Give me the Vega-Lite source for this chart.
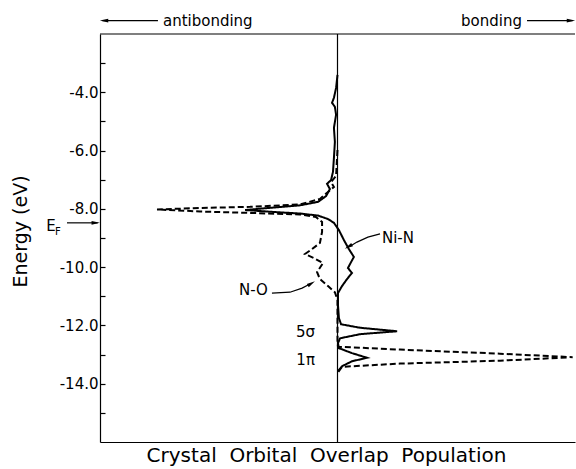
{
  "$schema": "https://vega.github.io/schema/vega-lite/v6.json",
  "width": 475,
  "height": 408,
  "autosize": "none",
  "padding": {"left": 100, "top": 34, "right": 1, "bottom": 27},
  "config": {
    "view": {"stroke": null},
    "font": "DejaVu Sans",
    "axis": {"domainColor": "black", "tickColor": "black", "labelColor": "black", "titleColor": "black", "grid": false, "titleFontWeight": "normal", "domainWidth": 1.2, "tickWidth": 1.2}
  },
  "datasets": {
    "curves": [
      {"s":"Ni-N","o":1,"x":0.000,"E":-3.40},{"s":"Ni-N","o":2,"x":-0.006,"E":-3.85},{"s":"Ni-N","o":3,"x":-0.015,"E":-4.19},{"s":"Ni-N","o":4,"x":-0.023,"E":-4.36},{"s":"Ni-N","o":5,"x":-0.011,"E":-4.50},{"s":"Ni-N","o":6,"x":-0.006,"E":-4.77},{"s":"Ni-N","o":7,"x":-0.015,"E":-5.22},{"s":"Ni-N","o":8,"x":-0.011,"E":-5.70},{"s":"Ni-N","o":9,"x":-0.015,"E":-6.25},{"s":"Ni-N","o":10,"x":-0.019,"E":-6.73},{"s":"Ni-N","o":11,"x":-0.027,"E":-7.01},{"s":"Ni-N","o":12,"x":-0.044,"E":-7.14},{"s":"Ni-N","o":13,"x":-0.032,"E":-7.32},{"s":"Ni-N","o":14,"x":-0.048,"E":-7.56},{"s":"Ni-N","o":15,"x":-0.082,"E":-7.76},{"s":"Ni-N","o":16,"x":-0.158,"E":-7.88},{"s":"Ni-N","o":17,"x":-0.263,"E":-7.95},{"s":"Ni-N","o":18,"x":-0.389,"E":-8.04},{"s":"Ni-N","o":19,"x":-0.263,"E":-8.11},{"s":"Ni-N","o":20,"x":-0.158,"E":-8.16},{"s":"Ni-N","o":21,"x":-0.082,"E":-8.23},{"s":"Ni-N","o":22,"x":-0.040,"E":-8.35},{"s":"Ni-N","o":23,"x":-0.015,"E":-8.48},{"s":"Ni-N","o":24,"x":0.006,"E":-8.73},{"s":"Ni-N","o":25,"x":0.027,"E":-9.07},{"s":"Ni-N","o":26,"x":0.048,"E":-9.38},{"s":"Ni-N","o":27,"x":0.069,"E":-9.65},{"s":"Ni-N","o":28,"x":0.053,"E":-9.89},{"s":"Ni-N","o":29,"x":0.044,"E":-10.03},{"s":"Ni-N","o":30,"x":0.061,"E":-10.20},{"s":"Ni-N","o":31,"x":0.040,"E":-10.41},{"s":"Ni-N","o":32,"x":0.019,"E":-10.65},{"s":"Ni-N","o":33,"x":0.002,"E":-10.89},{"s":"Ni-N","o":34,"x":0.002,"E":-11.30},{"s":"Ni-N","o":35,"x":0.006,"E":-11.75},{"s":"Ni-N","o":36,"x":0.015,"E":-11.96},{"s":"Ni-N","o":37,"x":0.095,"E":-12.08},{"s":"Ni-N","o":38,"x":0.251,"E":-12.20},{"s":"Ni-N","o":39,"x":0.095,"E":-12.30},{"s":"Ni-N","o":40,"x":0.011,"E":-12.44},{"s":"Ni-N","o":41,"x":0.002,"E":-12.61},{"s":"Ni-N","o":42,"x":0.006,"E":-12.78},{"s":"Ni-N","o":43,"x":0.061,"E":-12.95},{"s":"Ni-N","o":44,"x":0.124,"E":-13.11},{"s":"Ni-N","o":45,"x":0.061,"E":-13.23},{"s":"Ni-N","o":46,"x":0.019,"E":-13.40},{"s":"Ni-N","o":47,"x":0.002,"E":-13.57},
      {"s":"N-O","o":1,"x":0.000,"E":-5.98},{"s":"N-O","o":2,"x":-0.006,"E":-6.87},{"s":"N-O","o":3,"x":-0.027,"E":-7.08},{"s":"N-O","o":4,"x":-0.015,"E":-7.25},{"s":"N-O","o":5,"x":-0.040,"E":-7.42},{"s":"N-O","o":6,"x":-0.074,"E":-7.66},{"s":"N-O","o":7,"x":-0.158,"E":-7.85},{"s":"N-O","o":8,"x":-0.368,"E":-7.93},{"s":"N-O","o":9,"x":-0.579,"E":-7.97},{"s":"N-O","o":10,"x":-0.760,"E":-8.02},{"s":"N-O","o":11,"x":-0.579,"E":-8.09},{"s":"N-O","o":12,"x":-0.368,"E":-8.14},{"s":"N-O","o":13,"x":-0.158,"E":-8.19},{"s":"N-O","o":14,"x":-0.091,"E":-8.28},{"s":"N-O","o":15,"x":-0.065,"E":-8.45},{"s":"N-O","o":16,"x":-0.065,"E":-8.79},{"s":"N-O","o":17,"x":-0.074,"E":-9.17},{"s":"N-O","o":18,"x":-0.107,"E":-9.38},{"s":"N-O","o":19,"x":-0.137,"E":-9.55},{"s":"N-O","o":20,"x":-0.099,"E":-9.69},{"s":"N-O","o":21,"x":-0.061,"E":-9.86},{"s":"N-O","o":22,"x":-0.086,"E":-10.17},{"s":"N-O","o":23,"x":-0.074,"E":-10.41},{"s":"N-O","o":24,"x":-0.040,"E":-10.65},{"s":"N-O","o":25,"x":-0.011,"E":-10.86},{"s":"N-O","o":26,"x":0.000,"E":-11.13},{"s":"N-O","o":27,"x":0.000,"E":-12.51},{"s":"N-O","o":28,"x":0.002,"E":-12.73},{"s":"N-O","o":29,"x":0.263,"E":-12.83},{"s":"N-O","o":30,"x":0.684,"E":-12.97},{"s":"N-O","o":31,"x":0.990,"E":-13.09},{"s":"N-O","o":32,"x":0.684,"E":-13.21},{"s":"N-O","o":33,"x":0.263,"E":-13.31},{"s":"N-O","o":34,"x":0.019,"E":-13.42},{"s":"N-O","o":35,"x":0.002,"E":-13.61}
    ],
    "arrows": [
      {"id":"zero","o":1,"x":0,"E":-16},{"id":"zero","o":2,"x":0,"E":-2},
      {"id":"top","o":1,"x":-1,"E":-2},{"id":"top","o":2,"x":1,"E":-2},
      {"id":"anti","o":1,"x":-0.99,"E":-1.54},{"id":"anti","o":2,"x":-0.756,"E":-1.54},
      {"id":"bond","o":1,"x":0.798,"E":-1.54},{"id":"bond","o":2,"x":0.99,"E":-1.54},
      {"id":"ef","o":1,"x":-1.139,"E":-8.48},{"id":"ef","o":2,"x":-1.01,"E":-8.48},
      {"id":"nin","o":1,"x":0.179,"E":-8.86},{"id":"nin","o":2,"x":0.128,"E":-8.97},{"id":"nin","o":3,"x":0.082,"E":-9.14},{"id":"nin","o":4,"x":0.053,"E":-9.28},
      {"id":"no","o":1,"x":-0.276,"E":-10.89},{"id":"no","o":2,"x":-0.200,"E":-10.86},{"id":"no","o":3,"x":-0.149,"E":-10.72},{"id":"no","o":4,"x":-0.116,"E":-10.58}
    ],
    "heads": [
      {"id":"anti","x":-0.983,"E":-1.54,"a":180},
      {"id":"bond","x":0.983,"E":-1.54,"a":0},
      {"id":"ef","x":-1.018,"E":-8.48,"a":0},
      {"id":"nin","x":0.046,"E":-9.30,"a":151},
      {"id":"no","x":-0.110,"E":-10.56,"a":329}
    ],
    "notes": [
      {"t":"antibonding","k":"L","x":-0.735,"E":-1.54},
      {"t":"Ni-N","k":"L","x":0.187,"E":-9.0},
      {"t":"bonding","k":"R","x":0.777,"E":-1.54},
      {"t":"N-O","k":"R","x":-0.293,"E":-10.79},
      {"t":"5σ","k":"R","x":-0.095,"E":-12.23},
      {"t":"1π","k":"R","x":-0.095,"E":-13.19},
      {"t":"E","k":"E","x":-1.206,"E":-8.59},
      {"t":"F","k":"F","x":-1.177,"E":-8.80}
    ]
  },
  "encoding": {
    "x": {"field": "x", "type": "quantitative", "scale": {"domain": [-1, 1], "nice": false, "zero": false},
          "axis": {"orient": "bottom", "ticks": false, "labels": false, "title": "Crystal \u00a0Orbital \u00a0Overlap \u00a0Population", "titleFontSize": 20, "titleX": 226, "titleY": 13, "titleBaseline": "middle", "titleAlign": "center"}},
    "y": {"field": "E", "type": "quantitative", "scale": {"domain": [-16, -2], "nice": false, "zero": false},
          "axis": {"orient": "left", "values": [-15,-14,-13,-12,-11,-10,-9,-8,-7,-6,-5,-4,-3], "tickSize": -5, "labelExpr": "datum.value % 2 === 0 ? datum.value + '.0' : ''", "labelFontSize": 15, "labelPadding": 7, "title": "Energy (eV)", "titleFontSize": 19, "titleX": -80, "titleY": 197, "titleAngle": -90, "titleBaseline": "middle", "titleAlign": "center"}}
  },
  "layer": [
    {
      "data": {"name": "curves"},
      "mark": {"type": "line", "color": "black", "strokeWidth": 2},
      "encoding": {
        "strokeDash": {"field": "s", "type": "nominal", "scale": {"domain": ["Ni-N", "N-O"], "range": [[1, 0], [6, 3]]}, "legend": null},
        "detail": {"field": "s"},
        "order": {"field": "o", "type": "quantitative"}
      }
    },
    {
      "data": {"name": "arrows"},
      "mark": {"type": "line", "color": "black", "strokeWidth": 1.2},
      "encoding": {
        "detail": {"field": "id"},
        "order": {"field": "o", "type": "quantitative"}
      }
    },
    {
      "data": {"name": "heads"},
      "mark": {"type": "point", "shape": "M1,0L-1,-0.45L-1,0.45Z", "filled": true, "fill": "black", "stroke": null, "size": 70, "opacity": 1},
      "encoding": {
        "angle": {"field": "a", "type": "quantitative", "scale": null}
      }
    },
    {
      "data": {"name": "notes"},
      "transform": [{"filter": "datum.k === 'L'"}],
      "mark": {"type": "text", "align": "left", "baseline": "middle", "fontSize": 15, "font": "DejaVu Sans", "color": "black"},
      "encoding": {"text": {"field": "t"}}
    },
    {
      "data": {"name": "notes"},
      "transform": [{"filter": "datum.k === 'R'"}],
      "mark": {"type": "text", "align": "right", "baseline": "middle", "fontSize": 15, "font": "DejaVu Sans", "color": "black"},
      "encoding": {"text": {"field": "t"}}
    },
    {
      "data": {"name": "notes"},
      "transform": [{"filter": "datum.k === 'E'"}],
      "mark": {"type": "text", "align": "center", "baseline": "middle", "fontSize": 15, "font": "DejaVu Sans", "color": "black"},
      "encoding": {"text": {"field": "t"}}
    },
    {
      "data": {"name": "notes"},
      "transform": [{"filter": "datum.k === 'F'"}],
      "mark": {"type": "text", "align": "center", "baseline": "middle", "fontSize": 10, "font": "DejaVu Sans", "color": "black"},
      "encoding": {"text": {"field": "t"}}
    }
  ]
}
